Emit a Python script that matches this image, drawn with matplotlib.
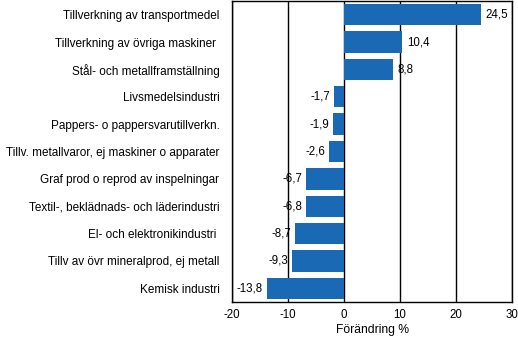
import matplotlib
matplotlib.use("Agg")
import matplotlib.pyplot as plt
import numpy as np

plt.rcParams['font.family'] = ['Liberation Sans', 'DejaVu Sans']

# branscher, uppifrån och ned
branscher = ['Tillverkning av transportmedel',
             'Tillverkning av övriga maskiner ',
             'Stål- och metallframställning',
             'Livsmedelsindustri',
             'Pappers- o pappersvarutillverkn.',
             'Tillv. metallvaror, ej maskiner o apparater',
             'Graf prod o reprod av inspelningar',
             'Textil-, beklädnads- och läderindustri',
             'El- och elektronikindustri ',
             'Tillv av övr mineralprod, ej metall',
             'Kemisk industri']
forandring = [24.5, 10.4, 8.8, -1.7, -1.9, -2.6, -6.7, -6.8, -8.7, -9.3, -13.8]
xticks = [-20, -10, 0, 10, 20, 30]

fig = plt.figure(figsize=(5.18, 3.37), dpi=100)
ax = fig.add_axes([232/518, 1 - 302/337, 280/518, 301/337])

y = np.arange(len(branscher))
bars = ax.barh(y, forandring, height=0.78, color='#1a69b4', zorder=2)

ax.set_xlim(-20, 30)
ax.set_ylim(len(branscher) - 0.5, -0.5)
ax.set_xticks(xticks)
ax.set_xticklabels([str(t) for t in xticks], fontsize=8.3)
ax.set_yticks(y)
ax.set_yticklabels(branscher, fontsize=8.5)
ax.tick_params(length=0, pad=9)
ax.tick_params(axis='x', pad=5)
ax.xaxis.grid(True, color='black', linewidth=1, zorder=1)
ax.set_axisbelow(True)
for s in ax.spines.values():
    s.set_linewidth(1)
ax.set_xlabel('Förändring %', fontsize=8.7, labelpad=2)

# värdeetiketter
for b, v in zip(bars, forandring):
    txt = ('%.1f' % v).replace('.', ',')
    yc = b.get_y() + b.get_height() / 2
    if v >= 0:
        ax.text(v + 0.8, yc, txt, ha='left', va='center', fontsize=8.3, zorder=3)
    else:
        ax.text(v - 0.7, yc, txt, ha='right', va='center', fontsize=8.3, zorder=3)

fig.savefig('out.png', dpi=100)
